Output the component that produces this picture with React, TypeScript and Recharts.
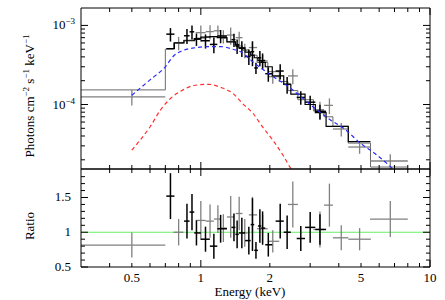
import React from "react";
import { ComposedChart, Line, Scatter, ErrorBar, XAxis, YAxis, ReferenceLine } from "recharts";

// black spectrum: bin centre (keV), bin edges, flux, flux error, data/model ratio, ratio error
const blackE = [0.737, 0.87, 0.915, 0.957, 1.048, 1.14, 1.22, 1.395, 1.44, 1.51, 1.62, 1.68, 1.74, 1.81, 1.86, 1.97, 2.22, 2.38, 2.73, 3.0, 3.31];
const blackLo = [0.707, 0.845, 0.893, 0.936, 1.0, 1.095, 1.18, 1.36, 1.415, 1.465, 1.56, 1.65, 1.71, 1.775, 1.835, 1.91, 2.12, 2.3, 2.62, 2.85, 3.16];
const blackHi = [0.767, 0.893, 0.936, 1.0, 1.095, 1.18, 1.3, 1.415, 1.465, 1.56, 1.65, 1.71, 1.775, 1.835, 1.91, 2.05, 2.3, 2.47, 2.85, 3.16, 3.52];
const blackFlux = [7.75e-4, 7.4e-4, 8.3e-4, 6.7e-4, 6.4e-4, 5.75e-4, 7.35e-4, 6.6e-4, 5.5e-4, 5.15e-4, 4.05e-4, 4.65e-4, 2.9e-4, 3.9e-4, 3.6e-4, 2.45e-4, 2.65e-4, 1.8e-4, 1.23e-4, 1.07e-4, 8.2e-5];
const blackFluxErr = [1.5e-4, 1.6e-4, 1.65e-4, 1.2e-4, 1.3e-4, 1.3e-4, 1.4e-4, 1.25e-4, 1.15e-4, 1.15e-4, 9e-5, 1.6e-4, 4.7e-5, 8.6e-5, 8.2e-5, 5.1e-5, 5.8e-5, 4.3e-5, 2.4e-5, 2.2e-5, 1.75e-5];
const blackRatio = [1.52, 1.16, 1.29, 0.99, 0.9, 0.8, 1.05, 1.07, 0.97, 0.99, 0.88, 1.11, 0.74, 1.09, 1.06, 0.82, 1.16, 1.0, 0.91, 1.07, 1.04];
const blackRatioErr = [0.33, 0.25, 0.26, 0.18, 0.18, 0.18, 0.2, 0.2, 0.2, 0.22, 0.2, 0.38, 0.12, 0.24, 0.24, 0.17, 0.25, 0.24, 0.18, 0.22, 0.22];

// grey spectrum
const greyE = [0.5, 0.8, 1.0, 1.097, 1.187, 1.254, 1.35, 1.47, 1.555, 1.68, 1.86, 2.06, 2.52, 3.31, 3.64, 4.1, 4.93, 6.71];
const greyLo = [0.3, 0.76, 0.95, 1.05, 1.14, 1.22, 1.3, 1.42, 1.52, 1.62, 1.76, 1.96, 2.4, 3.1, 3.45, 3.77, 4.4, 5.47];
const greyHi = [0.7, 0.84, 1.05, 1.14, 1.22, 1.3, 1.4, 1.52, 1.6, 1.76, 1.96, 2.2, 2.65, 3.45, 3.77, 4.4, 5.52, 8.0];
const greyFlux = [1.25e-4, 6.0e-4, 8.1e-4, 8.35e-4, 8.55e-4, 7.3e-4, 7.55e-4, 7.0e-4, 4.85e-4, 5.25e-4, 3.55e-4, 2.25e-4, 2.3e-4, 8.6e-5, 9.75e-5, 4.9e-5, 2.9e-5, 1.93e-5];
const greyFluxErr = [2.75e-5, 1.15e-4, 1.9e-4, 1.7e-4, 1.45e-4, 1.4e-4, 1.85e-4, 1.3e-4, 1.0e-4, 1.1e-4, 6.8e-5, 4.2e-5, 5e-5, 2.2e-5, 2.2e-5, 9.5e-6, 5.2e-6, 4.2e-6];
const greyRatio = [0.815, 1.0, 1.17, 1.16, 1.19, 1.06, 1.22, 1.27, 0.99, 1.25, 1.05, 0.87, 1.4, 1.04, 1.39, 0.92, 0.9, 1.19];
const greyRatioErr = [0.18, 0.19, 0.28, 0.24, 0.2, 0.2, 0.3, 0.24, 0.2, 0.26, 0.2, 0.16, 0.33, 0.26, 0.31, 0.18, 0.16, 0.26];

// folded models (histograms)
const blackModelEdges = [0.707, 0.767, 0.845, 0.936, 1.0, 1.095, 1.18, 1.3, 1.415, 1.465, 1.56, 1.65, 1.71, 1.775, 1.835, 1.91, 2.05, 2.3, 2.47, 2.85, 3.16, 3.52, 4.4, 5.5];
const blackModel = [5.1e-4, 6.0e-4, 6.4e-4, 6.8e-4, 7.1e-4, 7.2e-4, 7.0e-4, 6.2e-4, 5.7e-4, 5.2e-4, 4.6e-4, 4.2e-4, 3.9e-4, 3.6e-4, 3.4e-4, 3.0e-4, 2.3e-4, 1.8e-4, 1.35e-4, 1.0e-4, 7.9e-5, 5.3e-5, 3.4e-5];
const greyModelEdges = [0.3, 0.7, 0.76, 0.84, 0.95, 1.05, 1.14, 1.22, 1.3, 1.42, 1.52, 1.62, 1.76, 1.96, 2.2, 2.4, 2.65, 3.1, 3.45, 3.77, 4.4, 5.5, 8.0];
const greyModel = [1.53e-4, 5.0e-4, 6.0e-4, 6.5e-4, 6.9e-4, 7.2e-4, 7.2e-4, 6.9e-4, 6.2e-4, 5.5e-4, 4.9e-4, 4.2e-4, 3.4e-4, 2.6e-4, 1.95e-4, 1.5e-4, 1.15e-4, 8.3e-5, 7.0e-5, 5.3e-5, 3.25e-5, 1.62e-5];

// model components
const blueE = [0.5, 0.6, 0.7, 0.76, 0.83, 0.92, 1.07, 1.22, 1.38, 1.5, 1.7, 2.0, 2.4, 3.0, 3.7, 4.2, 5.0, 5.75, 6.7, 7.2];
const blueFlux = [1.31e-4, 2.05e-4, 3.0e-4, 4.1e-4, 4.8e-4, 5.15e-4, 5.4e-4, 5.4e-4, 5.0e-4, 4.6e-4, 3.4e-4, 2.4e-4, 1.7e-4, 1.0e-4, 6.3e-5, 5.0e-5, 3.2e-5, 2.4e-5, 1.65e-5, 1.35e-5];
const redE = [0.5, 0.544, 0.6, 0.666, 0.737, 0.83, 0.93, 1.08, 1.22, 1.38, 1.52, 1.69, 1.86, 2.06, 2.28, 2.44, 2.6];
const redFlux = [2.65e-5, 3.56e-5, 5.2e-5, 8.5e-5, 1.19e-4, 1.51e-4, 1.74e-4, 1.8e-4, 1.65e-4, 1.38e-4, 1.03e-4, 7.7e-5, 5.2e-5, 3.55e-5, 2.3e-5, 1.64e-5, 1.2e-5];

// axes
const energyTicks = [0.4, 0.5, 0.6, 0.7, 0.8, 0.9, 1, 2, 3, 4, 5, 6, 7, 8, 9, 10];
const energyLabels = [0.5, 1, 2, 5, 10];
const energyMajor = [1, 10];
const fluxTicks = [2e-5, 3e-5, 4e-5, 5e-5, 6e-5, 7e-5, 8e-5, 9e-5, 1e-4, 2e-4, 3e-4, 4e-4, 5e-4, 6e-4, 7e-4, 8e-4, 9e-4, 1e-3];
const fluxMajor = [1e-4, 1e-3];
const fluxMajorLabels = ["−4", "−3"];
const ratioTicks = [0.5, 0.6, 0.7, 0.8, 0.9, 1, 1.1, 1.2, 1.3, 1.4, 1.5, 1.6, 1.7, 1.8];
const ratioLabels = [0.5, 1, 1.5];

const serif = { fontFamily: "'Liberation Serif', 'Times New Roman', 'DejaVu Serif', serif" };

const points = (e: number[], lo: number[], hi: number[], v: number[], err: number[]) =>
  e.map((x, i) => ({ x, y: v[i], ex: [x - lo[i], hi[i] - x], ey: err[i] }));
const steps = (edges: number[], vals: number[]) =>
  edges.map((x, i) => ({ x, y: vals[Math.min(i, vals.length - 1)] }));
const curve = (e: number[], v: number[]) => e.map((x, i) => ({ x, y: v[i] }));

const blackPts = points(blackE, blackLo, blackHi, blackFlux, blackFluxErr);
const greyPts = points(greyE, greyLo, greyHi, greyFlux, greyFluxErr);
const blackRatioPts = points(blackE, blackLo, blackHi, blackRatio, blackRatioErr);
const greyRatioPts = points(greyE, greyLo, greyHi, greyRatio, greyRatioErr);
const blackStep = steps(blackModelEdges, blackModel);
const greyStep = steps(greyModelEdges, greyModel);
const blueLine = curve(blueE, blueFlux);
const redLine = curve(redE, redFlux);

const noShape = () => <g />;

function ETick(props: any) {
  const { x, y, payload, dir, showLabel } = props;
  const v = payload.value;
  const len = energyMajor.includes(v) ? 7 : 4;
  return (
    <g>
      <line x1={x} x2={x} y1={y} y2={y + dir * len} stroke="#000" />
      {showLabel && energyLabels.includes(v) && (
        <text x={x} y={y + 15} textAnchor="middle" style={serif} fontSize={13} fill="#000">{v}</text>
      )}
    </g>
  );
}

function FTick(props: any) {
  const { x, y, payload, dir, showLabel } = props;
  const k = fluxMajor.indexOf(payload.value);
  const len = k >= 0 ? 7 : 4;
  return (
    <g>
      <line x1={x} x2={x + dir * len} y1={y} y2={y} stroke="#000" />
      {showLabel && k >= 0 && (
        <text x={x - 6} y={y + 4} textAnchor="end" style={serif} fontSize={13} fill="#000">
          10<tspan dy={-5} fontSize={9}>{fluxMajorLabels[k]}</tspan>
        </text>
      )}
    </g>
  );
}

function RTick(props: any) {
  const { x, y, payload, dir, showLabel } = props;
  const v = payload.value;
  const len = ratioLabels.includes(v) ? 7 : 4;
  return (
    <g>
      <line x1={x} x2={x + dir * len} y1={y} y2={y} stroke="#000" />
      {showLabel && ratioLabels.includes(v) && (
        <text x={x - 10} y={y + 4} textAnchor="end" style={serif} fontSize={13} fill="#000">{v}</text>
      )}
    </g>
  );
}

const FluxTitle = () => (
  <text transform="translate(34,96) rotate(-90)" textAnchor="middle" style={serif} fontSize={13} fill="#000">
    Photons cm<tspan dy={-5} fontSize={9}>−2</tspan><tspan dy={5}> s</tspan>
    <tspan dy={-5} fontSize={9}>−1</tspan><tspan dy={5}> keV</tspan><tspan dy={-5} fontSize={9}>−1</tspan>
  </text>
);

const RatioTitle = () => (
  <text transform="translate(34,58) rotate(-90)" textAnchor="middle" style={serif} fontSize={13} fill="#000">Ratio</text>
);

const EnergyTitle = () => (
  <text x={250} y={128} textAnchor="middle" style={serif} fontSize={13} fill="#000">Energy (keV)</text>
);

const axisCommon = {
  tickSize: 0,
  tickMargin: 0,
  tickLine: false,
  interval: 0 as const,
  allowDataOverflow: true,
  axisLine: { stroke: "#000" },
};

export default function App() {
  return (
    <div style={{ position: "absolute", left: 0, top: 0, width: 445, height: 300, background: "#fff" }}>
      <div style={{ position: "absolute", left: 0, top: 0 }}>
        <ComposedChart width={445} height={170} margin={{ top: 7, right: 0, bottom: 0, left: 0 }}>
          <XAxis xAxisId="b" dataKey="x" type="number" scale="log" domain={[0.3, 10]} ticks={energyTicks} height={1} tick={<ETick dir={-1} />} {...axisCommon} />
          <XAxis xAxisId="t" orientation="top" dataKey="x" type="number" scale="log" domain={[0.3, 10]} ticks={energyTicks} height={1} tick={<ETick dir={1} />} {...axisCommon} />
          <YAxis yAxisId="l" type="number" scale="log" domain={[1.53e-5, 1.66e-3]} ticks={fluxTicks} width={81} tick={<FTick dir={1} showLabel />} label={<FluxTitle />} {...axisCommon} />
          <YAxis yAxisId="r" orientation="right" type="number" scale="log" domain={[1.53e-5, 1.66e-3]} ticks={fluxTicks} width={15} tick={<FTick dir={-1} />} {...axisCommon} />
          <Line xAxisId="b" yAxisId="l" data={greyStep} dataKey="y" type="stepAfter" stroke="#6a6a6a" strokeWidth={1} dot={false} isAnimationActive={false} />
          <Scatter xAxisId="b" yAxisId="l" data={greyPts} dataKey="y" shape={noShape} isAnimationActive={false}>
            <ErrorBar dataKey="ex" direction="x" width={0} stroke="#808080" strokeWidth={1.3} isAnimationActive={false} />
            <ErrorBar dataKey="ey" direction="y" width={0} stroke="#808080" strokeWidth={1.3} isAnimationActive={false} />
          </Scatter>
          <Line xAxisId="b" yAxisId="l" data={blackStep} dataKey="y" type="stepAfter" stroke="#000" strokeWidth={1.2} dot={false} isAnimationActive={false} />
          <Scatter xAxisId="b" yAxisId="l" data={blackPts} dataKey="y" shape={noShape} isAnimationActive={false}>
            <ErrorBar dataKey="ex" direction="x" width={0} stroke="#000" strokeWidth={1.5} isAnimationActive={false} />
            <ErrorBar dataKey="ey" direction="y" width={0} stroke="#000" strokeWidth={1.5} isAnimationActive={false} />
          </Scatter>
          <Line xAxisId="b" yAxisId="l" data={blueLine} dataKey="y" type="monotone" stroke="#2a2aff" strokeWidth={1.2} strokeDasharray="4 3" dot={false} isAnimationActive={false} />
          <Line xAxisId="b" yAxisId="l" data={redLine} dataKey="y" type="monotone" stroke="#ff3030" strokeWidth={1.2} strokeDasharray="4 3" dot={false} isAnimationActive={false} />
        </ComposedChart>
      </div>
      <div style={{ position: "absolute", left: 0, top: 168 }}>
        <ComposedChart width={445} height={132} margin={{ top: 0, right: 0, bottom: 0, left: 0 }}>
          <XAxis xAxisId="b" dataKey="x" type="number" scale="log" domain={[0.3, 10]} ticks={energyTicks} height={33} tick={<ETick dir={-1} showLabel />} label={<EnergyTitle />} {...axisCommon} />
          <XAxis xAxisId="t" orientation="top" dataKey="x" type="number" scale="log" domain={[0.3, 10]} ticks={energyTicks} height={1} tick={<ETick dir={1} />} {...axisCommon} />
          <YAxis yAxisId="l" type="number" domain={[0.5, 1.91]} ticks={ratioTicks} width={81} tick={<RTick dir={1} showLabel />} label={<RatioTitle />} {...axisCommon} />
          <YAxis yAxisId="r" orientation="right" type="number" domain={[0.5, 1.91]} ticks={ratioTicks} width={15} tick={<RTick dir={-1} />} {...axisCommon} />
          <ReferenceLine xAxisId="b" yAxisId="l" y={1} stroke="#66ee66" strokeWidth={1.2} />
          <Scatter xAxisId="b" yAxisId="l" data={greyRatioPts} dataKey="y" shape={noShape} isAnimationActive={false}>
            <ErrorBar dataKey="ex" direction="x" width={0} stroke="#808080" strokeWidth={1.3} isAnimationActive={false} />
            <ErrorBar dataKey="ey" direction="y" width={0} stroke="#808080" strokeWidth={1.3} isAnimationActive={false} />
          </Scatter>
          <Scatter xAxisId="b" yAxisId="l" data={blackRatioPts} dataKey="y" shape={noShape} isAnimationActive={false}>
            <ErrorBar dataKey="ex" direction="x" width={0} stroke="#000" strokeWidth={1.5} isAnimationActive={false} />
            <ErrorBar dataKey="ey" direction="y" width={0} stroke="#000" strokeWidth={1.5} isAnimationActive={false} />
          </Scatter>
        </ComposedChart>
      </div>
    </div>
  );
}
